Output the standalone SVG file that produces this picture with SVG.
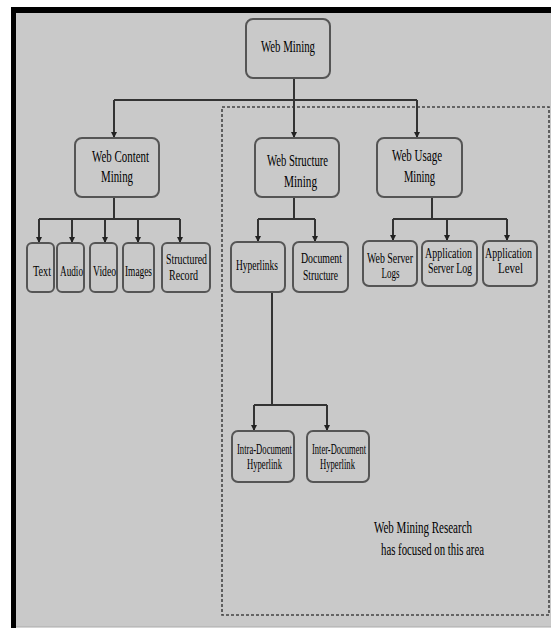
<svg xmlns="http://www.w3.org/2000/svg" width="551" height="628" viewBox="0 0 551 628">
<style>
.box{fill:#c9c9c9;stroke:#555;stroke-width:2}
.t{font-family:"Liberation Serif","Times New Roman",serif;fill:#000;text-anchor:middle;font-size:16px}
.s{font-size:14px}
.c{fill:none;stroke:#333;stroke-width:2}
</style>
<defs>
<marker id="ah" viewBox="0 0 6 10" refX="6" refY="5" markerWidth="6" markerHeight="10" markerUnits="userSpaceOnUse" orient="auto">
<path d="M0,2 L6,5 L0,8 Z" fill="#222"/>
</marker>
</defs>
<rect x="0" y="0" width="551" height="628" fill="#fff"/>
<rect x="16" y="13" width="535" height="614" fill="#c9c9c9"/>
<rect x="11" y="7" width="540" height="6" fill="#000"/>
<rect x="11" y="7" width="5" height="621" fill="#000"/>
<line x1="16" y1="627" x2="551" y2="627" stroke="#aaa" stroke-width="1"/>
<rect id="focus-area" x="222" y="107" width="327" height="508" fill="none" stroke="#444" stroke-width="1.6" stroke-dasharray="3,2"/>
<g id="connectors">
<path class="c" d="M294,78 V100 M114,100 H417"/>
<path class="c" d="M114,100 V138" marker-end="url(#ah)"/>
<path class="c" d="M294,100 V138" marker-end="url(#ah)"/>
<path class="c" d="M417,100 V138" marker-end="url(#ah)"/>
<path class="c" d="M114,197 V219 M39,219 H180"/>
<path class="c" d="M39,219 V243" marker-end="url(#ah)"/>
<path class="c" d="M72,219 V243" marker-end="url(#ah)"/>
<path class="c" d="M105,219 V243" marker-end="url(#ah)"/>
<path class="c" d="M138,219 V243" marker-end="url(#ah)"/>
<path class="c" d="M180,219 V243" marker-end="url(#ah)"/>
<path class="c" d="M294,197 V219 M258,219 H315"/>
<path class="c" d="M258,219 V242" marker-end="url(#ah)"/>
<path class="c" d="M315,219 V242" marker-end="url(#ah)"/>
<path class="c" d="M432,197 V219 M393,219 H507"/>
<path class="c" d="M393,219 V241" marker-end="url(#ah)"/>
<path class="c" d="M447,219 V241" marker-end="url(#ah)"/>
<path class="c" d="M507,219 V241" marker-end="url(#ah)"/>
<path class="c" d="M272,292 V405 M254,405 H327"/>
<path class="c" d="M254,405 V431" marker-end="url(#ah)"/>
<path class="c" d="M327,405 V431" marker-end="url(#ah)"/>
</g>
<g id="web-mining"><rect class="box" x="246" y="19" width="84" height="59" rx="7"/><text class="t" x="288" y="52" font-size="17" textLength="54" lengthAdjust="spacingAndGlyphs">Web Mining</text></g>
<g id="web-content-mining"><rect class="box" x="75" y="138" width="84" height="59" rx="7"/><text class="t" x="120.5" y="162" textLength="57" lengthAdjust="spacingAndGlyphs">Web Content</text><text class="t" x="117" y="182" textLength="32" lengthAdjust="spacingAndGlyphs">Mining</text></g>
<g id="web-structure-mining"><rect class="box" x="255" y="138" width="84" height="59" rx="7"/><text class="t" x="297.5" y="166" textLength="61" lengthAdjust="spacingAndGlyphs">Web Structure</text><text class="t" x="300.5" y="187" textLength="33" lengthAdjust="spacingAndGlyphs">Mining</text></g>
<g id="web-usage-mining"><rect class="box" x="377" y="138" width="85" height="59" rx="7"/><text class="t" x="417" y="161" textLength="50" lengthAdjust="spacingAndGlyphs">Web Usage</text><text class="t" x="419.5" y="182" textLength="31" lengthAdjust="spacingAndGlyphs">Mining</text></g>
<g id="text"><rect class="box" x="27" y="243" width="27" height="49" rx="5"/><text class="t s" x="42" y="276" textLength="18" lengthAdjust="spacingAndGlyphs">Text</text></g>
<g id="audio"><rect class="box" x="57" y="243" width="27" height="49" rx="5"/><text class="t s" x="71.5" y="276" textLength="23" lengthAdjust="spacingAndGlyphs">Audio</text></g>
<g id="video"><rect class="box" x="90" y="243" width="27" height="49" rx="5"/><text class="t s" x="104.5" y="276" textLength="23" lengthAdjust="spacingAndGlyphs">Video</text></g>
<g id="images"><rect class="box" x="123" y="243" width="31" height="49" rx="5"/><text class="t s" x="138.5" y="276" textLength="27" lengthAdjust="spacingAndGlyphs">Images</text></g>
<g id="structured-record"><rect class="box" x="162" y="243" width="48" height="49" rx="5"/><text class="t s" x="186.5" y="264" textLength="41" lengthAdjust="spacingAndGlyphs">Structured</text><text class="t s" x="183.5" y="280" textLength="29" lengthAdjust="spacingAndGlyphs">Record</text></g>
<g id="hyperlinks"><rect class="box" x="231" y="242" width="54" height="50" rx="6"/><text class="t s" x="257" y="270" textLength="42" lengthAdjust="spacingAndGlyphs">Hyperlinks</text></g>
<g id="document-structure"><rect class="box" x="293" y="242" width="55" height="50" rx="6"/><text class="t s" x="321.5" y="263" textLength="41" lengthAdjust="spacingAndGlyphs">Document</text><text class="t s" x="320.5" y="280" textLength="35" lengthAdjust="spacingAndGlyphs">Structure</text></g>
<g id="web-server-logs"><rect class="box" x="363" y="241" width="54" height="45" rx="6"/><text class="t s" x="390" y="263" textLength="46" lengthAdjust="spacingAndGlyphs">Web Server</text><text class="t s" x="390.5" y="278" textLength="18" lengthAdjust="spacingAndGlyphs">Logs</text></g>
<g id="application-server-log"><rect class="box" x="422" y="241" width="55" height="45" rx="6"/><text class="t s" x="448.5" y="258" textLength="47" lengthAdjust="spacingAndGlyphs">Application</text><text class="t s" x="450" y="273" textLength="44" lengthAdjust="spacingAndGlyphs">Server Log</text></g>
<g id="application-level"><rect class="box" x="483" y="241" width="54" height="45" rx="6"/><text class="t s" x="508.5" y="258" textLength="47" lengthAdjust="spacingAndGlyphs">Application</text><text class="t s" x="510.5" y="273" textLength="25" lengthAdjust="spacingAndGlyphs">Level</text></g>
<g id="intra-document-hyperlink"><rect class="box" x="232" y="431" width="62" height="51" rx="6"/><text class="t s" x="264.5" y="454" textLength="55" lengthAdjust="spacingAndGlyphs">Intra-Document</text><text class="t s" x="264.5" y="469" textLength="35" lengthAdjust="spacingAndGlyphs">Hyperlink</text></g>
<g id="inter-document-hyperlink"><rect class="box" x="307" y="431" width="62" height="51" rx="6"/><text class="t s" x="339" y="454" textLength="54" lengthAdjust="spacingAndGlyphs">Inter-Document</text><text class="t s" x="337.5" y="469" textLength="35" lengthAdjust="spacingAndGlyphs">Hyperlink</text></g>
<g id="research-note"><text class="t" x="423" y="533" textLength="98" lengthAdjust="spacingAndGlyphs">Web Mining Research</text><text class="t" x="432.5" y="555" textLength="103" lengthAdjust="spacingAndGlyphs">has focused on this area</text></g>
</svg>
